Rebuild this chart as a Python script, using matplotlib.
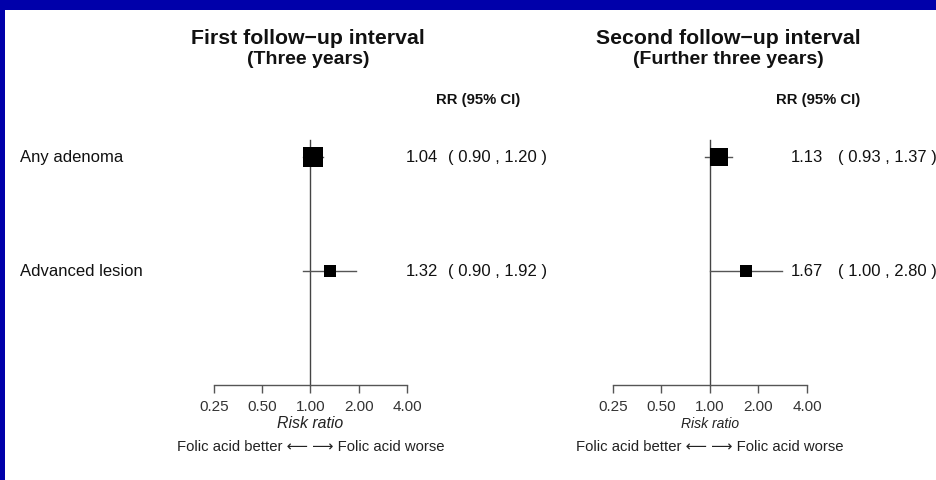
import numpy as np
import matplotlib
matplotlib.use('Agg')
import matplotlib.pyplot as plt
from matplotlib.patches import Rectangle
import matplotlib.transforms as mtransforms

# data
outcomes = ['Any adenoma', 'Advanced lesion']
first_rr = [1.04, 1.32]
first_lo = [0.90, 0.90]
first_hi = [1.20, 1.92]
second_rr = [1.13, 1.67]
second_lo = [0.93, 1.00]
second_hi = [1.37, 2.80]
ticks = [0.25, 0.5, 1.0, 2.0, 4.0]
tick_labels = ['0.25', '0.50', '1.00', '2.00', '4.00']

W, H = 937, 480
plt.rcParams['font.family'] = ['Liberation Sans', 'DejaVu Sans']


def fx(px):
    return px / W


def fy(py):
    return 1 - py / H


def panel(fig, x0, x1, rr, lo, hi, box_sizes, title, subtitle, title_x, rr_head_x,
          est_x, ci_x, risk_size):
    # axes covers pixel rows 130..385, rows at 157 and 271
    ax = fig.add_axes([fx(x0), fy(385), fx(x1) - fx(x0), (385 - 130) / H])
    ax.set_xscale('log', base=2)
    ax.set_xlim(0.25, 4)
    ax.set_ylim(2.0, -0.237)
    ax.patch.set_alpha(0)
    for s in ['top', 'right', 'left']:
        ax.spines[s].set_visible(False)
    ax.spines['bottom'].set_color('#555555')
    ax.spines['bottom'].set_linewidth(1.0)
    ax.set_xticks(ticks)
    ax.set_xticklabels(tick_labels)
    ax.xaxis.set_minor_locator(matplotlib.ticker.NullLocator())
    ax.tick_params(axis='x', direction='out', length=6, width=1.0, color='#555555',
                   labelsize=11, labelcolor='#333333', pad=5)
    ax.set_yticks([])

    ax.plot([1, 1], [-0.15, 2.0], color='#444444', lw=1.0, clip_on=False)
    ypos = np.arange(len(outcomes))
    for i in range(len(outcomes)):
        ax.plot([lo[i], hi[i]], [ypos[i], ypos[i]], color='#555555', lw=1.0, clip_on=False)
        ax.plot(rr[i], ypos[i], marker='s', color='black', markersize=box_sizes[i],
                markeredgewidth=0, clip_on=False)

    trans = mtransforms.blended_transform_factory(fig.transFigure, ax.transData)
    for i in range(len(outcomes)):
        ax.text(fx(est_x), ypos[i], '%.2f' % rr[i], transform=trans, fontsize=12,
                ha='left', va='center', color='#111111')
        ax.text(fx(ci_x), ypos[i], '( %.2f , %.2f )' % (lo[i], hi[i]), transform=trans,
                fontsize=12, ha='left', va='center', color='#111111')

    fig.text(fx(title_x), fy(38), title, fontsize=15.3, fontweight='bold',
             ha='center', va='center', color='#111111')
    fig.text(fx(title_x), fy(59), subtitle, fontsize=14, fontweight='bold',
             ha='center', va='center', color='#111111')
    fig.text(fx(rr_head_x), fy(100), 'RR (95% CI)', fontsize=10.7, fontweight='bold',
             ha='center', va='center', color='#111111')

    mid = (x0 + x1) / 2
    fig.text(fx(mid), fy(424), 'Risk ratio', fontsize=risk_size, style='italic',
             ha='center', va='center', color='#222222')
    fig.text(fx(mid), fy(447), 'Folic acid better \u27f5 \u27f6 Folic acid worse',
             fontsize=10.7, ha='center', va='center', color='#222222')
    return ax


fig = plt.figure(figsize=(W / 100, H / 100), dpi=100)
fig.patch.set_facecolor('white')
fig.patches.append(Rectangle((0, 0), fx(5), 1, transform=fig.transFigure,
                             facecolor='#0000AA', edgecolor='none'))
fig.patches.append(Rectangle((0, fy(10)), 1, 10 / H, transform=fig.transFigure,
                             facecolor='#0000AA', edgecolor='none'))

ax1 = panel(fig, 214, 407, first_rr, first_lo, first_hi, [15, 8],
            'First follow\u2212up interval', '(Three years)', 308, 478, 406, 448, 11.4)
ax2 = panel(fig, 613, 807, second_rr, second_lo, second_hi, [13.5, 8.5],
            'Second follow\u2212up interval', '(Further three years)', 728, 818, 791, 838, 10)

trans1 = mtransforms.blended_transform_factory(fig.transFigure, ax1.transData)
for i, name in enumerate(outcomes):
    ax1.text(fx(20), i, name, transform=trans1, fontsize=12, ha='left', va='center',
             color='#111111')

fig.savefig('out.png', dpi=100)
